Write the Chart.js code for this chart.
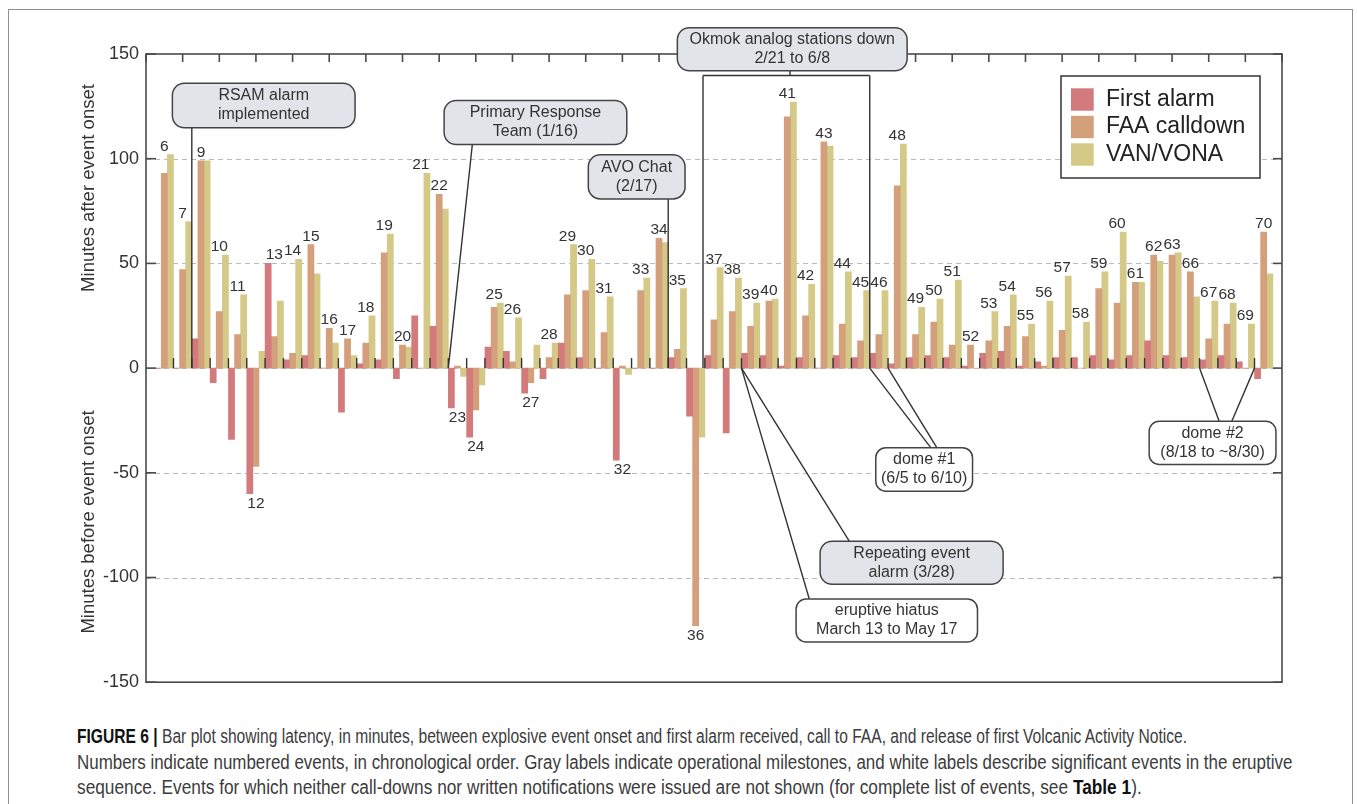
<!DOCTYPE html>
<html>
<head>
<meta charset="utf-8">
<script src="https://cdn.jsdelivr.net/npm/chart.js@4.4.0/dist/chart.umd.min.js"></script>
<style>
html, body { margin: 0; padding: 0; background: #fff; overflow: hidden; }
#wrap { position: relative; width: 1357px; height: 804px; }
#frame { position: absolute; left: 8px; top: 9px; width: 1345px; height: 830px; border: 1.5px solid #8f8f8f; box-sizing: border-box; }
#c { position: absolute; left: 0; top: 0; }
#caption { position: absolute; left: 77px; top: 724px; font-family: "Liberation Sans Narrow", "Liberation Sans", Arial, sans-serif; font-size: 19.5px; color: #3c3c3c; }
.ln { white-space: nowrap; height: 25.5px; line-height: 25.5px; }
.ln span { display: inline-block; transform-origin: 0 50%; }
.ln b { color: #111; }
</style>
</head>
<body>
<div id="wrap">
  <div id="frame"></div>
  <canvas id="c" width="1357" height="700"></canvas>
  <div id="caption">
    <div class="ln" data-w="1110"><span><b>FIGURE 6 |</b> Bar plot showing latency, in minutes, between explosive event onset and first alarm received, call to FAA, and release of first Volcanic Activity Notice.</span></div>
    <div class="ln" data-w="1215"><span>Numbers indicate numbered events, in chronological order. Gray labels indicate operational milestones, and white labels describe significant events in the eruptive</span></div>
    <div class="ln" data-w="1065"><span>sequence. Events for which neither call-downs nor written notifications were issued are not shown (for complete list of events, see <b>Table 1</b>).</span></div>
  </div>
</div>
<script>
// event numbers, one group of bars each
var events      = [6, 7, 9, 10, 11, 12, 13, 14, 15, 16, 17, 18, 19, 20, 21, 22, 23, 24, 25, 26,
                   27, 28, 29, 30, 31, 32, 33, 34, 35, 36, 37, 38, 39, 40, 41, 42, 43, 44, 45, 46,
                   48, 49, 50, 51, 52, 53, 54, 55, 56, 57, 58, 59, 60, 61, 62, 63, 66, 67, 68, 69, 70];
// minutes after (+) / before (-) event onset
var firstAlarm  = [0, 0, 14, -7, -34, -60, 50, 4, 6, 0, -21, 2, 4, -5, 25, 20, -19, -33, 10, 8,
                   -12, -5, 12, 5, 0, -44, 0, 0, 5, -23, 6, -31, 7, 6, 1, 5, 0, 6, 5, 7,
                   2, 5, 6, 5, 1, 7, 8, 1, 3, 5, 5, 6, 4, 6, 13, 6, 5, 4, 6, 3, -5];
var faaCalldown = [93, 47, 99, 27, 16, -47, 15, 7, 59, 19, 14, 12, 55, 11, 0, 83, 1, -20, 29, 3,
                   -7, 5, 35, 37, 17, 1, 37, 62, 9, -123, 23, 27, 20, 32, 120, 25, 108, 21, 13, 16,
                   87, 16, 22, 11, 11, 13, 20, 15, 1, 18, 0, 38, 31, 41, 54, 54, 46, 14, 21, 0, 65];
var vanVona     = [102, 70, 99, 54, 35, 8, 32, 52, 45, 12, 6, 25, 64, 10, 93, 76, -4, -8, 31, 24,
                   11, 12, 59, 52, 34, -3, 43, 60, 38, -33, 48, 43, 31, 33, 127, 40, 106, 46, 37, 37,
                   107, 29, 33, 42, 0, 27, 35, 21, 32, 44, 22, 46, 65, 41, 51, 55, 34, 32, 31, 21, 45];
var seriesNames = ['First alarm', 'FAA calldown', 'VAN/VONA'];
var yTicks      = [-150, -100, -50, 0, 50, 100, 150];
// events whose number is written under the bars
var labelBelow  = [12, 23, 24, 27, 32, 36];

// milestone boxes, in group index / minute units
var notes = [
  { text: ['RSAM alarm', 'implemented'], gray: true, box: [0.44, 136, 10.41, 114.8], lines: [[1.5, 114.8, 1.5, 0]] },
  { text: ['Primary Response', 'Team (1/16)'], gray: true, box: [15.27, 127.8, 25.24, 106.8], lines: [[16.81, 106.8, 15.5, 0]] },
  { text: ['AVO Chat', '(2/17)'], gray: true, box: [23.14, 101.9, 28.42, 80.8], lines: [[27.5, 80.8, 27.5, 0]] },
  { text: ['Okmok analog stations down', '2/21 to 6/8'], gray: true, box: [28.0, 162.5, 40.54, 142],
    lines: [[34.15, 142, 34.15, 139.7], [29.4, 0, 29.4, 139.7], [29.4, 139.7, 38.5, 139.7], [38.5, 139.7, 38.5, 0]] },
  { text: ['Repeating event', 'alarm (3/28)'], gray: true, box: [35.79, -82.7, 45.78, -103.2], lines: [[37.39, -82.7, 31.5, 0]] },
  { text: ['eruptive hiatus', 'March 13 to May 17'], gray: false, box: [34.48, -110.3, 44.38, -130.8], lines: [[35.2, -110.3, 31.5, 0]] },
  { text: ['dome #1', '(6/5 to 6/10)'], gray: false, box: [38.83, -38, 44.11, -58.8], lines: [[41.83, -38, 38.5, 0], [42.16, -38, 39.5, 0]] },
  { text: ['dome #2', '(8/18 to ~8/30)'], gray: false, box: [53.75, -25.4, 60.67, -46], lines: [[57.57, -25.4, 56.5, 0], [58.26, -25.4, 59.5, 0]] }
];

var colors = ['#d27a7c', '#d49f7b', '#d4c987'];
var FONT = "'Liberation Sans', Arial, Helvetica, sans-serif";
Chart.defaults.font.family = FONT;

function pts(arr) {
	return arr.map(function(v, i) { return { x: i, y: v }; });
}

var decor = {
	id: 'decor',
	beforeDatasetsDraw: function(chart) {
		var ctx = chart.ctx, a = chart.chartArea, ys = chart.scales.y;
		ctx.save();
		ctx.strokeStyle = '#b7bac3';
		ctx.lineWidth = 1.2;
		ctx.setLineDash([5, 4]);
		yTicks.forEach(function(t) {
			if (t === -150 || t === 150) return;
			var y = Math.round(ys.getPixelForValue(t)) + 0.5;
			ctx.beginPath(); ctx.moveTo(a.left, y); ctx.lineTo(a.right, y); ctx.stroke();
		});
		ctx.restore();
	},
	afterDraw: function(chart) {
		var ctx = chart.ctx, a = chart.chartArea, xs = chart.scales.x, ys = chart.scales.y;
		var y0 = ys.getPixelForValue(0);
		ctx.save();

		// ticks on the zero line between groups
		ctx.strokeStyle = '#333';
		ctx.lineWidth = 1.4;
		for (var i = 0; i < events.length - 1; i++) {
			var x = xs.getPixelForValue(i + 0.5);
			ctx.beginPath(); ctx.moveTo(x, y0); ctx.lineTo(x, y0 - 10); ctx.stroke();
		}

		// frame and inward ticks
		ctx.strokeStyle = '#4a4a4a';
		ctx.lineWidth = 1.6;
		ctx.strokeRect(a.left, a.top, a.right - a.left, a.bottom - a.top);
		yTicks.forEach(function(t) {
			var y = ys.getPixelForValue(t);
			ctx.beginPath(); ctx.moveTo(a.left, y); ctx.lineTo(a.left + 10, y); ctx.stroke();
			ctx.beginPath(); ctx.moveTo(a.right, y); ctx.lineTo(a.right - 9, y); ctx.stroke();
		});
		for (var v = xs.min; v <= xs.max; v += 2) {
			var tx = xs.getPixelForValue(v);
			ctx.beginPath(); ctx.moveTo(tx, a.top); ctx.lineTo(tx, a.top + 8); ctx.stroke();
		}

		// event numbers
		ctx.fillStyle = '#333';
		ctx.font = '15.5px ' + FONT;
		ctx.textAlign = 'center';
		events.forEach(function(ev, i) {
			var vals = [firstAlarm[i], faaCalldown[i], vanVona[i]];
			var x = xs.getPixelForValue(i);
			if (labelBelow.indexOf(ev) >= 0) {
				ctx.textBaseline = 'top';
				ctx.fillText(String(ev), x, ys.getPixelForValue(Math.min.apply(null, vals)) + 2);
			} else {
				ctx.textBaseline = 'alphabetic';
				ctx.fillText(String(ev), x, ys.getPixelForValue(Math.max.apply(null, vals)) - 4);
			}
		});

		// milestone lines, then boxes
		ctx.strokeStyle = '#333';
		ctx.lineWidth = 1.4;
		notes.forEach(function(n) {
			n.lines.forEach(function(l) {
				ctx.beginPath();
				ctx.moveTo(xs.getPixelForValue(l[0]), ys.getPixelForValue(l[1]));
				ctx.lineTo(xs.getPixelForValue(l[2]), ys.getPixelForValue(l[3]));
				ctx.stroke();
			});
		});
		ctx.font = '16px ' + FONT;
		ctx.textBaseline = 'middle';
		notes.forEach(function(n) {
			var x1 = xs.getPixelForValue(n.box[0]), y1 = ys.getPixelForValue(n.box[1]);
			var x2 = xs.getPixelForValue(n.box[2]), y2 = ys.getPixelForValue(n.box[3]);
			ctx.beginPath();
			ctx.roundRect(x1, y1, x2 - x1, y2 - y1, n.gray ? 12 : 10);
			ctx.fillStyle = n.gray ? '#e2e4e9' : '#fff';
			ctx.fill();
			ctx.strokeStyle = '#444';
			ctx.lineWidth = 1.5;
			ctx.stroke();
			ctx.fillStyle = '#333';
			var cx = (x1 + x2) / 2, cy = (y1 + y2) / 2;
			ctx.fillText(n.text[0], cx, cy - 9.5);
			ctx.fillText(n.text[1], cx, cy + 9.5);
		});

		// legend
		var lx = a.right - 221, ly = a.top + 22;
		ctx.fillStyle = '#fff';
		ctx.fillRect(lx, ly, 199, 102);
		ctx.strokeStyle = '#333';
		ctx.lineWidth = 1.5;
		ctx.strokeRect(lx, ly, 199, 102);
		ctx.font = '23px ' + FONT;
		ctx.textAlign = 'left';
		chart.data.datasets.forEach(function(ds, k) {
			ctx.fillStyle = ds.backgroundColor;
			ctx.fillRect(lx + 10, ly + 12.3 + k * 27.5, 22.7, 22.4);
			ctx.fillStyle = '#222';
			ctx.fillText(ds.label, lx + 45, ly + 23.5 + k * 27.5);
		});

		// axis titles
		ctx.font = '18.5px ' + FONT;
		ctx.fillStyle = '#333';
		ctx.textAlign = 'center';
		[[86, 'Minutes after event onset'], [-73.5, 'Minutes before event onset']].forEach(function(t) {
			ctx.save();
			ctx.translate(89, ys.getPixelForValue(t[0]));
			ctx.rotate(-Math.PI / 2);
			ctx.fillText(t[1], 0, 0);
			ctx.restore();
		});
		ctx.restore();
	}
};

var chart = new Chart(document.getElementById('c'), {
	type: 'bar',
	data: {
		datasets: [
			{ label: seriesNames[0], data: pts(firstAlarm),  backgroundColor: colors[0] },
			{ label: seriesNames[1], data: pts(faaCalldown), backgroundColor: colors[1] },
			{ label: seriesNames[2], data: pts(vanVona),     backgroundColor: colors[2] }
		]
	},
	options: {
		responsive: false,
		animation: false,
		layout: { padding: { top: 54, right: 75, bottom: 17, left: 0 } },
		datasets: { bar: { categoryPercentage: 1, barPercentage: 1 } },
		plugins: { legend: { display: false }, tooltip: { enabled: false } },
		scales: {
			x: {
				type: 'linear', min: -1, max: events.length, display: false,
				offset: false, bounds: 'data', grid: { offset: false }
			},
			y: {
				min: yTicks[0], max: yTicks[yTicks.length - 1],
				afterFit: function(s) { s.width = 146; },
				afterBuildTicks: function(s) { s.ticks = yTicks.map(function(v) { return { value: v }; }); },
				ticks: { color: '#333', font: { size: 18 }, padding: 7 },
				grid: { display: false, drawTicks: false },
				border: { display: false }
			}
		}
	},
	plugins: [decor]
});

// squeeze each caption line to its printed width
document.querySelectorAll('.ln').forEach(function(d) {
	var s = d.firstElementChild;
	s.style.transform = 'scaleX(' + (parseFloat(d.getAttribute('data-w')) / s.offsetWidth) + ')';
});
</script>
</body>
</html>
